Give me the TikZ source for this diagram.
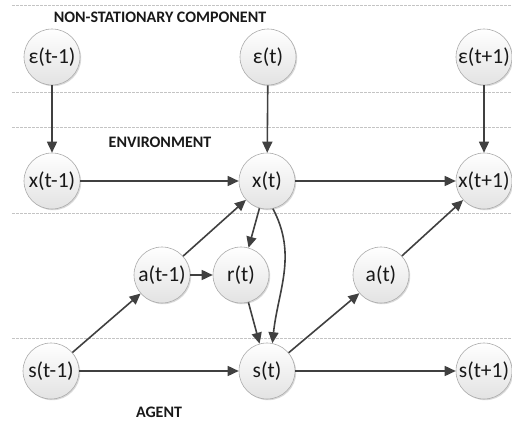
\documentclass[tikz,border=0pt]{standalone}
\usepackage{fontspec}
\setmainfont{Carlito}
\usetikzlibrary{arrows.meta,shadows}
\definecolor{edgec}{HTML}{404040}
\definecolor{rimc}{HTML}{ABABAB}
\definecolor{dashc}{HTML}{C4C4C4}
\tikzset{
  var/.style={circle, minimum size=56pt, inner sep=0pt, draw=rimc, line width=0.6pt,
    top color=white, bottom color=black!11,
    drop shadow={shadow xshift=1.2pt, shadow yshift=-1.2pt, opacity=0.25, fill=black!60},
    font=\fontsize{21.5}{23}\selectfont, text=black!90},
  link/.style={draw=edgec, line width=1.6pt, -{Triangle[length=11pt,width=10pt]}},
  band/.style={draw=dashc, line width=0.5pt, dash pattern=on 2.5pt off 1.5pt},
  title/.style={font=\fontsize{16}{18}\selectfont\bfseries, text=black!90}
}
\begin{document}
\begin{tikzpicture}[x=1pt,y=1pt]
\useasboundingbox (0,0) rectangle (512,-423);
% band separators
\foreach \yy in {5,92,127,213,338}
  \draw[band] (12,-\yy) -- (512,-\yy);
% titles
\node[title] (tnon) at (160,-17) {NON-STATIONARY COMPONENT};
\node[title] (tenv) at (160,-142) {ENVIRONMENT};
\node[title] (tag) at (159,-412) {AGENT};
% nodes
\node[var] (e1) at (52,-57) {ε(t-1)};
\node[var] (e2) at (268,-57) {ε(t)};
\node[var] (e3) at (484,-57) {ε(t+1)};
\node[var] (x1) at (52,-181) {x(t-1)};
\node[var] (x2) at (267,-181) {x(t)};
\node[var] (x3) at (484,-181) {x(t+1)};
\node[var] (a1) at (162,-275) {a(t-1)};
\node[var] (r) at (241,-275) {r(t)};
\node[var] (a2) at (381,-275) {a(t)};
\node[var] (s1) at (51,-371) {s(t-1)};
\node[var] (s2) at (267,-371) {s(t)};
\node[var] (s3) at (484,-371) {s(t+1)};
% edges
\draw[link] (e1) -- (x1);
\draw[link] (e2) -- (x2);
\draw[link] (e3) -- (x3);
\draw[link] (x1) -- (x2);
\draw[link] (x2) -- (x3);
\draw[link] (s1) -- (s2);
\draw[link] (s2) -- (s3);
\draw[link] (s1) -- (a1);
\draw[link] (a1) -- (x2);
\draw[link] (a1) -- (r);
\draw[link] (x2) -- (r);
\draw[link] (r) -- (s2);
\draw[link] (x2.-78) to[out=-62,in=84] (s2.79);
\draw[link] (s2) -- (a2);
\draw[link] (a2) -- (x3);
\end{tikzpicture}
\end{document}
